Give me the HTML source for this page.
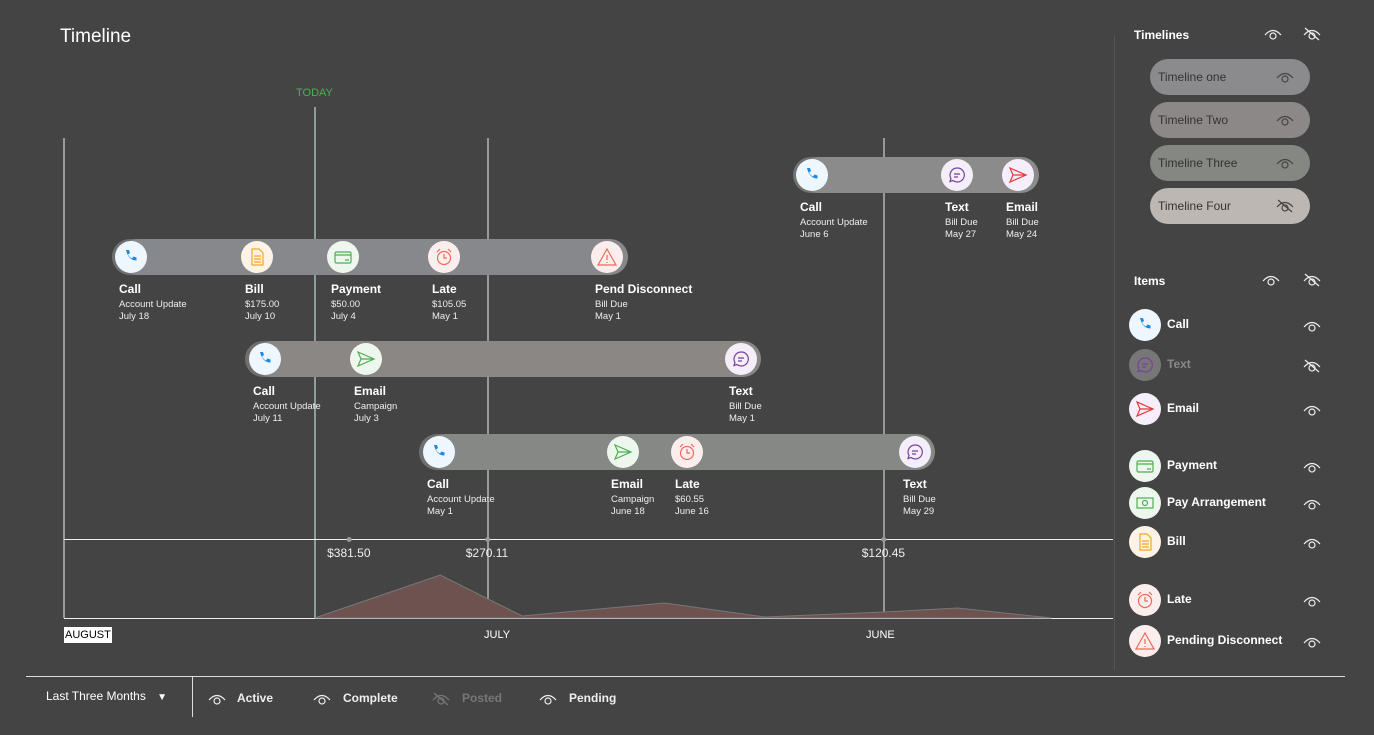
<!DOCTYPE html>
<html><head><meta charset="utf-8"><style>
body{margin:0;width:1374px;height:735px;background:#444444;font-family:"Liberation Sans",sans-serif;color:#fff;position:relative;overflow:hidden}
.abs{position:absolute}
.bar{position:absolute;height:36px;border-radius:18px;box-shadow:inset 8px 0 0 rgba(0,0,0,0.18)}
.ic{position:absolute;width:32px;height:32px;border-radius:50%;display:flex;align-items:center;justify-content:center}
.lb{position:absolute;font-size:9.5px;line-height:12px;color:#eee}
.lb b{display:block;font-size:12px;line-height:15px;margin-bottom:2px;color:#fff}
.tl{position:absolute;left:1150px;width:160px;height:36px;border-radius:18px;font-size:12px;color:#333;line-height:36px;text-indent:8px}
.it{position:absolute;left:1129px;font-size:12px;font-weight:bold}
.it .ic{position:relative;display:inline-flex;vertical-align:middle;margin-right:6px}
.eye{position:absolute}
.ft{position:absolute;top:691px;font-size:12px;font-weight:bold}
</style></head><body>
<div class="abs" style="left:60px;top:26px;font-size:19px">Timeline</div>
<div class="abs" style="left:296px;top:87px;font-size:11px;color:#4caf50">TODAY</div>
<svg id="chart" class="abs" style="left:0;top:0" width="1374" height="735"></svg>
<div id="tls"></div>
<div class="abs" style="left:64px;top:627px;background:#fff;color:#000;font-size:11px;padding:2px 1px">AUGUST</div>
<div class="abs" style="left:484px;top:629px;font-size:11px">JULY</div>
<div class="abs" style="left:866px;top:629px;font-size:11px">JUNE</div>

<div class="abs" style="left:1134px;top:28px;font-size:12px;font-weight:bold">Timelines</div>
<div class="tl" style="top:59px;background:#8b8a8c">Timeline one</div>
<div class="tl" style="top:102px;background:#8c8888">Timeline Two</div>
<div class="tl" style="top:145px;background:#848782">Timeline Three</div>
<div class="tl" style="top:188px;background:#bdb7b3">Timeline Four</div>
<div class="abs" style="left:1134px;top:274px;font-size:12px;font-weight:bold">Items</div>
<div id="items"></div>

<div class="abs" style="left:26px;top:676px;width:1319px;height:1px;background:#ddd"></div>
<div class="abs" style="left:192px;top:677px;width:1px;height:40px;background:#ddd"></div>
<div class="abs" style="left:46px;top:689px;font-size:12px">Last Three Months <span style="margin-left:8px;font-size:10px">▼</span></div>
<div id="foot"></div>

<script>
// Area chart data
const dayOffsets=[19,28.5,34.7,45.5,53.1,62.1,67.7,74.8];
const amounts=[0,43,2,15,1,6,10,0];
const balanceLabels=["$381.50","$270.11","$120.45"];
const balanceDays=[21.6,32.1,62.1];
const xS=d=>64+d*13.2, yS=v=>618-v;
const NS="http://www.w3.org/2000/svg";
const svg=document.getElementById('chart');
function mk(t,a){const e=document.createElementNS(NS,t);for(const k in a)e.setAttribute(k,a[k]);svg.appendChild(e);return e;}
let l;
l=mk('line',{x1:64,y1:138,x2:64,y2:618,stroke:'#eee','stroke-width':1});


l=mk('line',{x1:315,y1:107,x2:315,y2:618,stroke:'#cfe','stroke-width':1});


[488,884].forEach(x=>{l=mk('line',{x1:x,y1:138,x2:x,y2:618,stroke:'#eee','stroke-width':1});

});
l=mk('line',{x1:64,y1:539.5,x2:1113,y2:539.5,stroke:'#eee','stroke-width':1});


l=mk('line',{x1:64,y1:618.5,x2:1113,y2:618.5,stroke:'#eee','stroke-width':1});


l=mk('line',{x1:1114.5,y1:35,x2:1114.5,y2:670,stroke:'#555','stroke-width':1});


let pts=dayOffsets.map((d,i)=>xS(d)+','+yS(amounts[i]));
let area=mk('polygon',{points:xS(dayOffsets[0])+',618 '+pts.join(' ')+' '+xS(dayOffsets[dayOffsets.length-1])+',618',fill:'#6e5250',stroke:'#777','stroke-width':1});


balanceDays.forEach((d,i)=>{
 const c=mk('circle',{cx:xS(d),cy:539.5,r:2.5,fill:'#999'});
 
 
 const t=mk('text',{x:xS(d)-22,y:557,fill:'#eee','font-size':12,'font-family':'Liberation Sans'});
 t.textContent=balanceLabels[i];
 
 
});

const ICON={
 call:{bg:'#eef6ff',svg:'<path d="M5 3 l3 0 l1 3 l-2 1.5 q1.5 3 4 4 l1.5 -2 l3 1 l0 3 q-8 0 -10.5 -10.5z" fill="#1e88e5"/>'},
 bill:{bg:'#fdf3e6',svg:'<path d="M5 2h7l4 4v12H5z M7 9h7M7 12h7M7 15h7" fill="none" stroke="#f5a623" stroke-width="1.2"/>'},
 payment:{bg:'#eef7ee',svg:'<rect x="2" y="5" width="16" height="11" rx="1.5" fill="none" stroke="#4caf50" stroke-width="1.2"/><path d="M2 8h16M12 13h4" stroke="#4caf50" stroke-width="1.2"/>'},
 late:{bg:'#fdeeee',svg:'<circle cx="10" cy="11" r="6.5" fill="none" stroke="#f06a5a" stroke-width="1.2"/><path d="M10 7v4h3M3 5l3-3M17 5l-3-3" fill="none" stroke="#f06a5a" stroke-width="1.2"/>'},
 pend:{bg:'#fdeeee',svg:'<path d="M10 2L19 18H1z M10 8v5 M10 15v1" fill="none" stroke="#f06a5a" stroke-width="1.2"/>'},
 email:{bg:'#eef7ee',svg:'<path d="M2 3l16 7-16 7 3-7z M5 10h13" fill="none" stroke="#4caf50" stroke-width="1.2"/>'},
 emailr:{bg:'#f6eefb',svg:'<path d="M2 3l16 7-16 7 3-7z M5 10h13" fill="none" stroke="#e53935" stroke-width="1.2"/>'},
 text:{bg:'#f3eef8',svg:'<path d="M10 3a7 7 0 1 1-4 12.5l-3 1 1-3A7 7 0 0 1 10 3z M7 9h6M7 12h4" fill="none" stroke="#7b3fa0" stroke-width="1.2"/>'},
 arr:{bg:'#eef7ee',svg:'<rect x="2" y="5" width="16" height="10" fill="none" stroke="#4caf50" stroke-width="1.2"/><circle cx="10" cy="10" r="2.5" fill="none" stroke="#4caf50" stroke-width="1.2"/>'}
};
function icon(k,x,y,name){return `<div class="ic" style="left:${x-16}px;top:${y-16}px;background:${ICON[k].bg}"><svg width="20" height="20" viewBox="0 0 20 20">${ICON[k].svg}</svg></div>`;}

const timelines=[
 {n:'timeline-one',x:112,w:516,y:239,c:'#87888c',ev:[['call',131,'Call','Account Update','July 18'],['bill',257,'Bill','$175.00','July 10'],['payment',343,'Payment','$50.00','July 4'],['late',444,'Late','$105.05','May 1'],['pend',607,'Pend Disconnect','Bill Due','May 1']]},
 {n:'timeline-two',x:245,w:516,y:341,c:'#8b8784',ev:[['call',265,'Call','Account Update','July 11'],['email',366,'Email','Campaign','July 3'],['text',741,'Text','Bill Due','May 1']]},
 {n:'timeline-three',x:419,w:516,y:434,c:'#868885',ev:[['call',439,'Call','Account Update','May 1'],['email',623,'Email','Campaign','June 18'],['late',687,'Late','$60.55','June 16'],['text',915,'Text','Bill Due','May 29']]},
 {n:'timeline-four',x:793,w:246,y:157,c:'#8b8b8b',ev:[['call',812,'Call','Account Update','June 6'],['text',957,'Text','Bill Due','May 27'],['emailr',1018,'Email','Bill Due','May 24']]}
];
let h='';
timelines.forEach(t=>{
 h+=`<div class="bar" style="left:${t.x}px;top:${t.y}px;width:${t.w}px;background:${t.c}"></div>`;
 t.ev.forEach(e=>{
  h+=icon(e[0],e[1],t.y+18,t.n+'-'+e[2].toLowerCase().replace(/ /g,'-')+'-icon');
  h+=`<div class="lb" style="left:${e[1]-12}px;top:${t.y+43}px"><b>${e[2]}</b>${e[3]}<br>${e[4]}</div>`;
 });
});
document.getElementById('tls').innerHTML=h;

function eye(x,y,off,col,name){return `<svg class="eye" style="left:${x}px;top:${y}px" width="18" height="14" viewBox="0 0 18 14"><path d="M1 8q8-9 16 0" fill="none" stroke="${col}" stroke-width="1.2"/><circle cx="9" cy="9" r="3" fill="none" stroke="${col}" stroke-width="1.2"/>${off?`<path d="M2 1l14 12" stroke="${col}" stroke-width="1.2"/>`:''}</svg>`;}
h='';
h+=eye(1264,27,0,'#eee','timelines-show-all')+eye(1303,27,1,'#eee','timelines-hide-all');
[[70,0],[113,0],[156,0],[199,1]].forEach((p,i)=>h+=eye(1276,p[0],p[1],'#444','timeline-eye-'+(i+1)));
h+=eye(1262,273,0,'#eee','items-show-all')+eye(1303,273,1,'#eee','items-hide-all');
const items=[['call','Call',325],['text','Text',365],['emailr','Email',409],['payment','Payment',466],['arr','Pay Arrangement',503],['bill','Bill',542],['late','Late',600],['pend','Pending Disconnect',641]];
items.forEach(it=>{
 const dim=it[1]==='Text';
 h+=`<div class="it" style="top:${it[2]-16}px;color:${dim?'#888':'#fff'}"><div class="ic" style="background:${dim?'#777':ICON[it[0]].bg}"><svg width="20" height="20" viewBox="0 0 20 20">${ICON[it[0]].svg}</svg></div>${it[1]}</div>`;
 h+=eye(1303,it[2]-6,dim?1:0,'#eee','item-eye-'+it[1].toLowerCase().replace(/ /g,'-'));
});
document.getElementById('items').innerHTML=h;
h='';
[['Active',208,237,0],['Complete',313,343,0],['Posted',432,462,1],['Pending',539,569,0]].forEach(f=>{
 const c=f[3]?'#777':'#eee';
 h+=eye(f[1],692,f[3],c,'filter-'+f[0].toLowerCase()+'-eye');
 h+=`<div class="ft" style="left:${f[2]}px;color:${c}">${f[0]}</div>`;
});
document.getElementById('foot').innerHTML=h;
</script>
</body></html>
